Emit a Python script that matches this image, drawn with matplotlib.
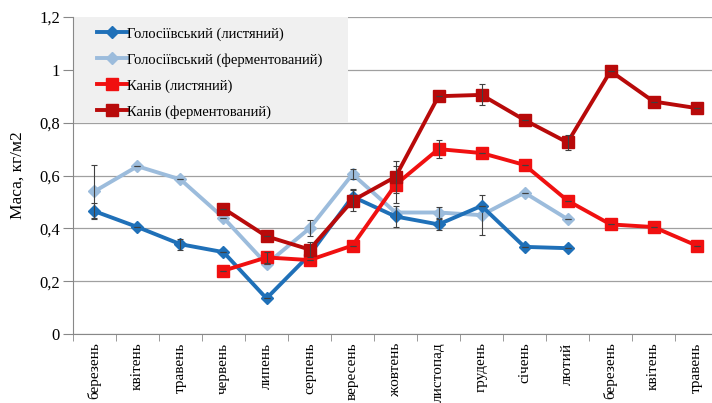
import matplotlib
matplotlib.use("Agg")
import matplotlib.pyplot as plt
from matplotlib.patches import Rectangle
import numpy as np

plt.rcParams['font.family'] = ['Liberation Serif', 'DejaVu Serif']

months = ["березень", "квітень", "травень", "червень", "липень", "серпень",
          "вересень", "жовтень", "листопад", "грудень", "січень", "лютий",
          "березень", "квітень", "травень"]

# Голосіївський (12 місяців, з березня по лютий)
golos_lyst = [0.465, 0.405, 0.34, 0.31, 0.135, 0.30, 0.52, 0.445, 0.415, 0.485, 0.33, 0.325]
golos_lyst_err = [0.03, 0.0, 0.02, 0.0, 0.0, 0.0, 0.03, 0.04, 0.02, 0.0, 0.0, 0.0]
golos_ferm = [0.54, 0.635, 0.585, 0.44, 0.265, 0.40, 0.605, 0.46, 0.46, 0.45, 0.535, 0.435]
golos_ferm_err = [0.10, 0.0, 0.0, 0.0, 0.0, 0.03, 0.02, 0.0, 0.02, 0.075, 0.0, 0.0]

# Канів (з червня по травень)
kaniv_lyst = [0.24, 0.29, 0.28, 0.335, 0.565, 0.70, 0.685, 0.64, 0.505, 0.415, 0.405, 0.335]
kaniv_lyst_err = [0.0, 0.02, 0.0, 0.0, 0.07, 0.035, 0.0, 0.0, 0.0, 0.0, 0.0, 0.0]
kaniv_ferm = [0.475, 0.37, 0.32, 0.505, 0.595, 0.90, 0.905, 0.81, 0.725, 0.995, 0.88, 0.855]
kaniv_ferm_err = [0.0, 0.0, 0.03, 0.04, 0.06, 0.0, 0.04, 0.0, 0.03, 0.0, 0.0, 0.0]

x = np.arange(len(months))
x_golos = x[:12]
x_kaniv = x[3:]

fig = plt.figure(figsize=(7.12, 4.03), dpi=100)
ax = fig.add_axes([0.1025, 0.171, 0.906, 0.787])

series = [
    (x_golos, golos_lyst, golos_lyst_err, "#1F70B8", "D", 6.5, "Голосіївський (листяний)", 3),
    (x_golos, golos_ferm, golos_ferm_err, "#9CBCDC", "D", 6.5, "Голосіївський (ферментований)", 2),
    (x_kaniv, kaniv_lyst, kaniv_lyst_err, "#F01010", "s", 8.5, "Канів (листяний)", 4),
    (x_kaniv, kaniv_ferm, kaniv_ferm_err, "#B80A0A", "s", 8.5, "Канів (ферментований)", 5),
]
for xs, ys, es, col, mk, ms, lab, z in series:
    ax.plot(xs, ys, color=col, lw=2.8, marker=mk, ms=ms, label=lab, zorder=z)
    ax.errorbar(xs, ys, yerr=es, fmt="none", ecolor="#404040", elinewidth=0.8,
                capsize=2.5, capthick=0.8, zorder=z + 0.5)

ax.set_xlim(-0.5, 14.5)
ax.set_ylim(0, 1.2)
ax.set_yticks(np.arange(0, 1.21, 0.2))
ax.set_yticklabels(["0", "0,2", "0,4", "0,6", "0,8", "1", "1,2"], fontsize=12)
ax.set_xticks(x)
ax.set_xticklabels(months, rotation=90, fontsize=11)
ax.set_xticks(np.arange(-0.5, 15, 1), minor=True)
ax.tick_params(axis="x", which="major", length=0, pad=6)
ax.tick_params(axis="x", which="minor", length=5, color="#888888")
ax.tick_params(axis="y", length=7, color="#888888", pad=2.5)
ax.set_ylabel("Маса, кг/м2", fontsize=12.5, labelpad=10)

ax.grid(axis="y", color="#A0A0A0", lw=0.9)
ax.set_axisbelow(True)
for s in ["top", "right"]:
    ax.spines[s].set_visible(False)
ax.spines["left"].set_color("#888888")
ax.spines["bottom"].set_color("#888888")

# сірий фон легенди
ax.add_patch(Rectangle((0, 0.666), 0.426, 0.334, transform=ax.transAxes,
                       facecolor="#F0F0F0", edgecolor="none", zorder=1.5))
leg = ax.legend(loc="upper left", bbox_to_anchor=(0.038, 0.968), fontsize=10.5,
                frameon=False, handlelength=2.0, handletextpad=0.05,
                borderpad=0, labelspacing=0.85, borderaxespad=0)
leg.set_zorder(10)

fig.savefig("out.png", dpi=100)
